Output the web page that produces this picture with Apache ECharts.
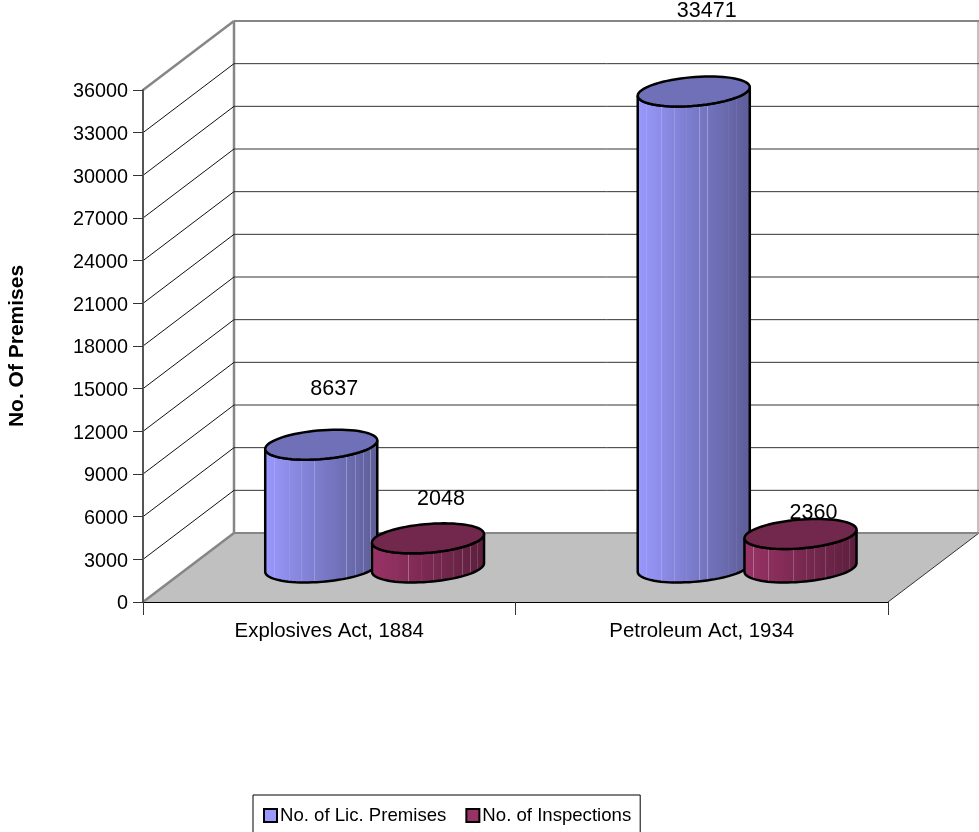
<!DOCTYPE html>
<html>
<head>
<meta charset="utf-8">
<style>
  html, body { margin: 0; padding: 0; background: #fff; }
  #chart { width: 979px; height: 832px; }
</style>
<script src="https://cdn.jsdelivr.net/npm/echarts@6/dist/echarts.min.js"></script>
</head>
<body>
<div id="chart"></div>
<script>
const categories = ['Explosives Act, 1884', 'Petroleum Act, 1934']
const licPremises = [8637, 33471]
const inspections = [2048, 2360]
const yTicks = [0, 3000, 6000, 9000, 12000, 15000, 18000, 21000, 24000, 27000, 30000, 33000, 36000]

// 3d look: how far the back wall sits from the front plane
const DEPTH_X = 91
const DEPTH_Y = 69
// ellipse of a cylinder
const ELL_A = 53.7
const ELL_BX = 16
const ELL_BY = 15
const FONT = '"Liberation Sans", Arial, sans-serif'
const STRIPES = [0.09, 0.22, 0.33, 0.44, 0.55, 0.62, 0.72, 0.8, 0.87, 0.93]

function lerp(c1, c2, f) {
  const r = c1.map((v, i) => Math.round(v + (c2[i] - v) * f))
  return 'rgb(' + r.join(',') + ')'
}

// horizontal shading with the thin light stripes on it
function bodyFill(left, right) {
  const stops = [{ offset: 0, color: lerp(left, right, 0) }]
  STRIPES.forEach(f => {
    const base = lerp(left, right, f)
    const light = lerp(left.map(v => v + (255 - v) * 0.3), right.map(v => v + (255 - v) * 0.3), f)
    stops.push({ offset: f - 0.004, color: base })
    stops.push({ offset: f, color: light })
    stops.push({ offset: f + 0.004, color: base })
  })
  stops.push({ offset: 1, color: lerp(left, right, 1) })
  return new echarts.graphic.LinearGradient(0, 0, 1, 0, stops)
}

function ellipsePts(cx, cy, from, to, n) {
  const pts = []
  for (let i = 0; i <= n; i++) {
    const t = from + (to - from) * i / n
    pts.push([cx + ELL_A * Math.cos(t) + ELL_BX * Math.sin(t), cy - ELL_BY * Math.sin(t)])
  }
  return pts
}

function cylinderItem(opt) {
  return function(params, api) {
    const cat = api.value(0)
    const val = api.value(1)
    const front = api.coord([cat, 0])
    const cx = front[0] + opt.dx
    const yBase = front[1] - DEPTH_Y / 2
    const yTop = api.coord([cat, val])[1] - DEPTH_Y / 2
    const t0 = Math.atan2(ELL_BX, ELL_A)
    const lowerBase = ellipsePts(cx, yBase, t0 + Math.PI, t0 + 2 * Math.PI, 40)
    const lowerTop = ellipsePts(cx, yTop, t0 + 2 * Math.PI, t0 + Math.PI, 40)
    const top = ellipsePts(cx, yTop, 0, 2 * Math.PI, 72)
    return {
      type: 'group',
      children: [
        {
          type: 'polygon',
          shape: { points: lowerBase.concat(lowerTop) },
          style: { fill: bodyFill(opt.left, opt.right), stroke: '#000', lineWidth: 2.5 }
        },
        {
          type: 'text',
          style: {
            text: String(val),
            x: cx + 13,
            y: yTop - opt.lift[cat],
            align: 'center',
            verticalAlign: 'middle',
            fill: '#000',
            font: '21.5px ' + FONT
          }
        },
        {
          type: 'polygon',
          shape: { points: top },
          style: { fill: opt.top, stroke: '#000', lineWidth: 2.5 }
        }
      ]
    }
  }
}

function wallItem(params, api) {
  const p = api.coord([0, api.value(0)])
  const sys = params.coordSys
  const x0 = sys.x
  const x1 = sys.x + sys.width
  const y = p[1]
  const children = []
  const isTop = api.value(0) === yTicks[yTicks.length - 1]
  const isBottom = api.value(0) === 0
  if (isBottom) {
    children.push({
      type: 'polygon',
      shape: { points: [[x0, y], [x0 + DEPTH_X, y - DEPTH_Y], [x1 + DEPTH_X, y - DEPTH_Y], [x1, y]] },
      style: { fill: '#c0c0c0', stroke: null }
    })
    // left edge of the floor is gray, right edge is thin
    children.push({
      type: 'line',
      shape: { x1: x0, y1: y, x2: x0 + DEPTH_X, y2: y - DEPTH_Y },
      style: { stroke: '#868686', lineWidth: 2.5 }
    })
    children.push({
      type: 'line',
      shape: { x1: x1, y1: y, x2: x1 + DEPTH_X, y2: y - DEPTH_Y },
      style: { stroke: '#333', lineWidth: 1 }
    })
    children.push({
      type: 'line',
      shape: { x1: x0 + DEPTH_X, y1: y - DEPTH_Y, x2: x0 + DEPTH_X, y2: sys.y - DEPTH_Y },
      style: { stroke: '#868686', lineWidth: 2.5 }
    })
    children.push({
      type: 'line',
      shape: { x1: x1 + DEPTH_X - 1, y1: y - DEPTH_Y, x2: x1 + DEPTH_X - 1, y2: sys.y - DEPTH_Y },
      style: { stroke: '#868686', lineWidth: 1 }
    })
  }
  children.push({
    type: 'line',
    shape: { x1: x0 + DEPTH_X, y1: y - DEPTH_Y, x2: x1 + DEPTH_X, y2: y - DEPTH_Y },
    style: { stroke: isTop || isBottom ? '#868686' : '#333', lineWidth: isTop || isBottom ? 2 : 1 }
  })
  if (!isBottom) {
    children.push({
      type: 'line',
      shape: { x1: x0, y1: y, x2: x0 + DEPTH_X, y2: y - DEPTH_Y },
      style: { stroke: isTop ? '#868686' : '#111', lineWidth: isTop ? 2.5 : 1 }
    })
  }
  return { type: 'group', children: children }
}

const chart = echarts.init(document.getElementById('chart'), null, { renderer: 'canvas' })

chart.setOption({
  animation: false,
  backgroundColor: '#fff',
  grid: { left: 143, top: 90, width: 745, height: 512, containLabel: false, outerBoundsMode: 'none' },
  legend: {
    data: [
      { name: 'No. of Lic. Premises', icon: 'rect' },
      { name: 'No. of Inspections', icon: 'rect' }
    ],
    left: 253,
    top: 795,
    padding: [11, 9, 14, 10],
    itemWidth: 13,
    itemHeight: 13,
    itemGap: 19,
    borderColor: '#000',
    borderWidth: 1,
    itemStyle: { borderColor: '#000', borderWidth: 2 },
    textStyle: { fontFamily: FONT, fontSize: 18.6, color: '#000', padding: [0, 0, 0, -2] }
  },
  xAxis: {
    type: 'category',
    data: categories,
    axisLine: { lineStyle: { color: '#000', width: 1 } },
    axisTick: { show: true, length: 13, alignWithLabel: false, lineStyle: { color: '#333' } },
    axisLabel: { fontFamily: FONT, fontSize: 20.4, color: '#000', margin: 19, interval: 0 },
    splitLine: { show: false },
    z: 3
  },
  yAxis: {
    type: 'value',
    min: yTicks[0],
    max: yTicks[yTicks.length - 1],
    interval: 3000,
    name: 'No. Of Premises',
    nameLocation: 'middle',
    nameRotate: 90,
    nameGap: 115,
    nameTextStyle: { fontFamily: FONT, fontSize: 21, fontWeight: 'bold', color: '#000' },
    axisLine: { show: true, lineStyle: { color: '#555', width: 2 } },
    axisTick: { show: true, length: 10, lineStyle: { color: '#333' } },
    axisLabel: {
      fontFamily: FONT,
      fontSize: 19.8,
      color: '#000',
      margin: 15,
      verticalAlign: 'top',
      lineHeight: 20,
      padding: [-8, 0, 0, 0],
      formatter: v => String(v)
    },
    splitLine: { show: false },
    z: 3
  },
  series: [
    {
      type: 'custom',
      name: 'walls',
      silent: true,
      z: 1,
      coordinateSystem: 'cartesian2d',
      data: yTicks.map(v => [v]),
      encode: { y: 0 },
      renderItem: wallItem
    },
    {
      type: 'custom',
      name: 'No. of Lic. Premises',
      z: 4,
      itemStyle: { color: '#9999ff' },
      data: licPremises.map((v, i) => [i, v]),
      encode: { x: 0, y: 1 },
      renderItem: cylinderItem({
        dx: -8,
        left: [153, 153, 255],
        right: [92, 92, 150],
        top: '#7070b8',
        lift: [56, 80]
      })
    },
    {
      type: 'custom',
      name: 'No. of Inspections',
      z: 5,
      itemStyle: { color: '#993366' },
      data: inspections.map((v, i) => [i, v]),
      encode: { x: 0, y: 1 },
      renderItem: cylinderItem({
        dx: 98.75,
        left: [153, 51, 102],
        right: [92, 31, 61],
        top: '#72284c',
        lift: [39, 21]
      })
    }
  ]
})
</script>
</body>
</html>
